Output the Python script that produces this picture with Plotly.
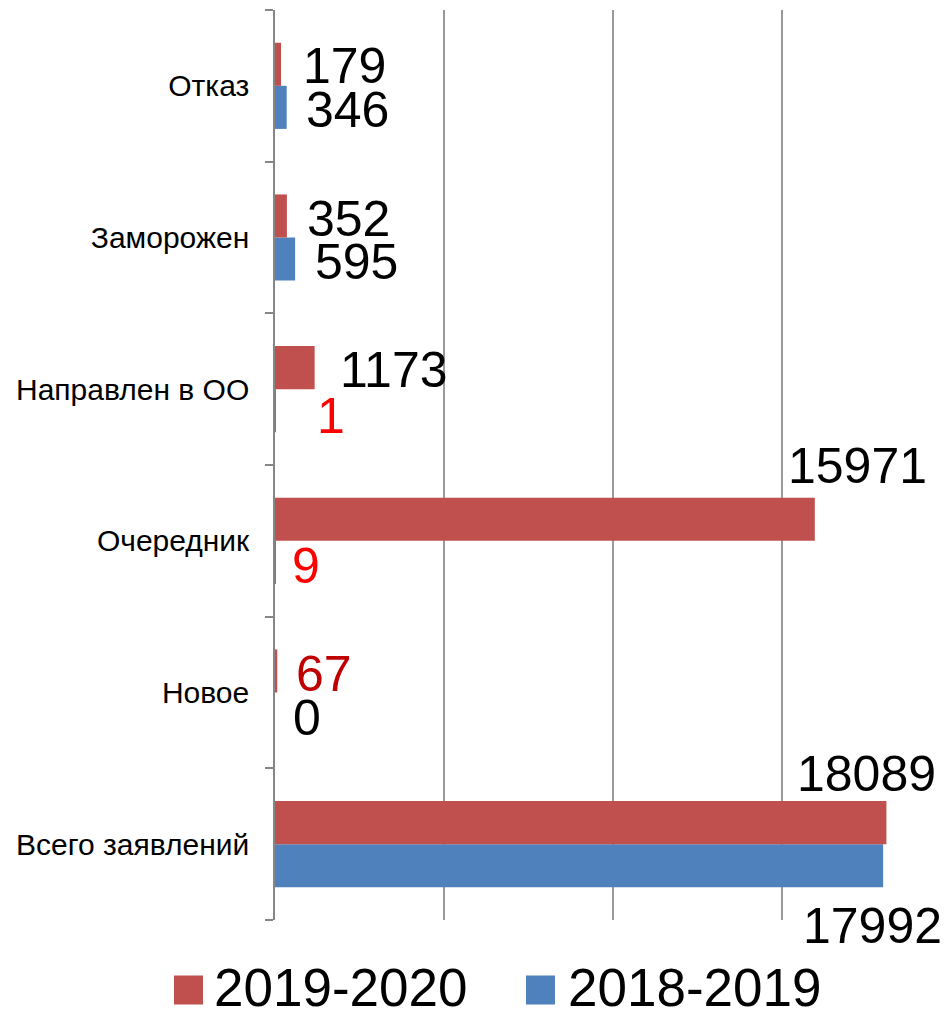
import plotly.graph_objects as go

# ---- data ----
categories = ["Всего заявлений", "Новое", "Очередник", "Направлен в ОО", "Заморожен", "Отказ"]
values_2019_2020 = [18089, 67, 15971, 1173, 352, 179]
values_2018_2019 = [17992, 0, 9, 1, 595, 346]
series_names = ["2019-2020", "2018-2019"]

# ---- styles / layout (pixels) ----
W, H = 947, 1011
ML, MR, MT, MB = 275, 0, 10, 91
RED = "#C0504D"
BLUE = "#4F81BD"
FONT = "Liberation Sans"
label_colors_red = ["black", "#C00000", "black", "black", "black", "black"]
label_colors_blue = ["black", "black", "#FF0000", "#FF0000", "black", "black"]
# (xshift from bar end to label centre, yshift from category centre)
label_pos_red = [(-20, 70.5), (47, 18.5), (43, 75), (79, 19), (61.5, 19), (63, 19.5)]
label_pos_blue = [(-10.5, -81.5), (31.5, -25), (31, -25), (56, -27), (61.5, -24.5), (61, -24.5)]
# legend: (square left px, text left px)
legend_px = [(174, 212), (526, 566)]
legend_sq = 29
legend_cy = 990
legend_text_cy = 987


def px_x(p):
    return (p - ML) / (W - ML - MR)


def px_y(p):
    return (H - MB - p) / (H - MT - MB)


fig = go.Figure()
fig.add_trace(go.Bar(y=categories, x=values_2018_2019, orientation="h",
                     marker=dict(color=BLUE, line=dict(width=0)),
                     name=series_names[1], showlegend=False))
fig.add_trace(go.Bar(y=categories, x=values_2019_2020, orientation="h",
                     marker=dict(color=RED, line=dict(width=0)),
                     name=series_names[0], showlegend=False))

annotations = []
for cat, v, col, (dx, dy) in zip(categories, values_2019_2020, label_colors_red, label_pos_red):
    annotations.append(dict(x=v, y=cat, text=str(v), showarrow=False, xanchor="center",
                            yanchor="middle", xshift=dx, yshift=dy,
                            font=dict(family=FONT, size=50, color=col)))
for cat, v, col, (dx, dy) in zip(categories, values_2018_2019, label_colors_blue, label_pos_blue):
    annotations.append(dict(x=v, y=cat, text=str(v), showarrow=False, xanchor="center",
                            yanchor="middle", xshift=dx, yshift=dy,
                            font=dict(family=FONT, size=50, color=col)))

# legend (drawn manually to get the large square markers)
shapes = []
for nm, col, (sq_x, tx_x) in zip(series_names, [RED, BLUE], legend_px):
    shapes.append(dict(type="rect", xref="paper", yref="paper",
                       x0=px_x(sq_x), x1=px_x(sq_x + legend_sq),
                       y0=px_y(legend_cy + legend_sq / 2), y1=px_y(legend_cy - legend_sq / 2),
                       fillcolor=col, line=dict(width=0)))
    annotations.append(dict(x=px_x(tx_x), y=px_y(legend_text_cy), xref="paper", yref="paper",
                            text=nm, showarrow=False, xanchor="left", yanchor="middle",
                            height=46, valign="middle",
                            font=dict(family=FONT, size=53, color="black")))

fig.update_layout(
    width=W, height=H,
    margin=dict(l=ML, r=MR, t=MT, b=MB),
    paper_bgcolor="white", plot_bgcolor="white",
    barmode="group", bargap=0.432, bargroupgap=0,
    font=dict(family=FONT, color="black"),
    showlegend=False,
    annotations=annotations,
    shapes=shapes,
    xaxis=dict(range=[0, 19882], autorange=False, dtick=5000, tick0=0, showgrid=True,
               gridcolor="#9A9A9A", gridwidth=1.5, showticklabels=False,
               zeroline=False, showline=False, fixedrange=True, automargin=False),
    yaxis=dict(type="category", range=[-0.5, len(categories) - 0.5], autorange=False,
               showline=True, linecolor="#868686", linewidth=1.5,
               ticks="outside", tickson="boundaries", ticklen=8, tickcolor="#868686",
               tickwidth=1.5, showgrid=False, ticklabelstandoff=18, automargin=False,
               tickfont=dict(family=FONT, size=30, color="black"), fixedrange=True),
)

fig.write_html("out.html", config={"displayModeBar": False},
               post_script="document.body.style.margin='0';")
